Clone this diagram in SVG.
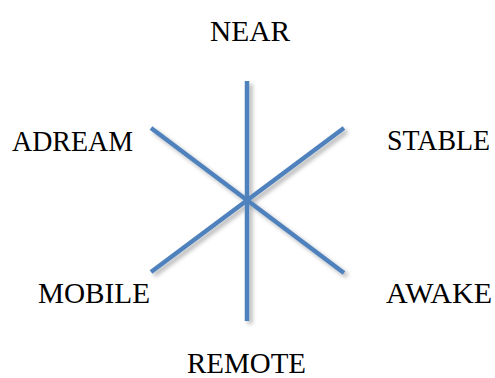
<svg xmlns="http://www.w3.org/2000/svg" width="495" height="378" viewBox="0 0 495 378">
<style>
.lbl{font-family:"Liberation Serif","DejaVu Serif",serif;font-size:28.5px;fill:#000}
.ln{stroke:#4F81BD;stroke-width:4.5;fill:none}
</style>
<defs>
<filter id="sh" x="-20%" y="-20%" width="140%" height="140%">
<feDropShadow dx="3" dy="3" stdDeviation="2" flood-color="#000" flood-opacity="0.3"/>
</filter>
</defs>
<g id="connectors" filter="url(#sh)">
<line class="ln" x1="247" y1="81" x2="247" y2="321"/>
<line class="ln" x1="151" y1="128" x2="344" y2="273"/>
<line class="ln" x1="151" y1="272" x2="344" y2="128"/>
</g>
<g id="near"><text class="lbl" x="210" y="41" textLength="80" lengthAdjust="spacingAndGlyphs">NEAR</text></g>
<g id="adream"><text class="lbl" x="12" y="151" textLength="121" lengthAdjust="spacingAndGlyphs">ADREAM</text></g>
<g id="stable"><text class="lbl" x="387" y="150" textLength="103" lengthAdjust="spacingAndGlyphs">STABLE</text></g>
<g id="mobile"><text class="lbl" x="38" y="303" textLength="112" lengthAdjust="spacingAndGlyphs">MOBILE</text></g>
<g id="awake"><text class="lbl" x="386" y="303" textLength="106" lengthAdjust="spacingAndGlyphs">AWAKE</text></g>
<g id="remote"><text class="lbl" x="187" y="373" textLength="119" lengthAdjust="spacingAndGlyphs">REMOTE</text></g>
</svg>
